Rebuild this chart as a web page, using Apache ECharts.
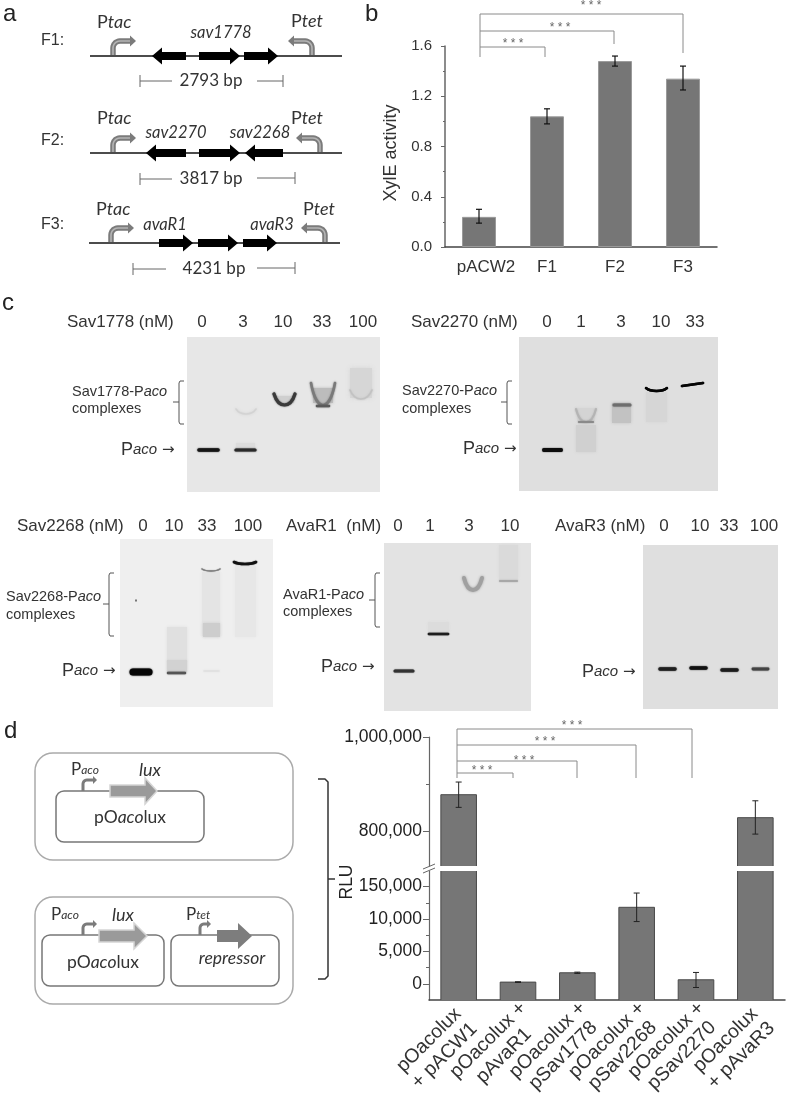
<!DOCTYPE html>
<html><head><meta charset="utf-8">
<style>html,body{margin:0;padding:0;background:#fff}#c{width:787px;height:1096px;filter:blur(0.45px)}</style>
<script src="https://cdn.jsdelivr.net/npm/echarts@6/dist/echarts.min.js"></script>
</head><body><div id="c"></div>
<script>
// ---------- DATA ----------
const bCategories = ['pACW2','F1','F2','F3'];
const bValues = [0.24,1.04,1.48,1.34];
const bErrLow = [0.19,0.98,1.44,1.25];
const bErrHigh = [0.30,1.10,1.52,1.44];
const dCategories = ['pOacolux\n+ pACW1','pOacolux +\npAvaR1','pOacolux +\npSav1778','pOacolux +\npSav2268','pOacolux +\npSav2270','pOacolux\n+ pAvaR3'];
const dValues = [877000,260,1700,11800,620,828000];
const dErrLow = [850000,200,1600,9600,-570,793000];
const dErrHigh = [904000,320,1800,14000,1750,864000];
const dUpperTickValues = [800000,1000000];
const dUpperMinorTicks = [900000];
const dLowerTickValues = [0,5000,10000,15000];
const dLowerTickLabels = ['0','5,000','10,000','150,000'];
const dLowerMinorTicks = [2500,7500,12500];
const dAxisFloor = -2500;
const dUpperFloor = 725000;

const AR='"Liberation Sans",Arial,sans-serif', LA='Lato,sans-serif';
const TXT='#333';
const g=[];
function T(x,y,text,o){o=o||{};const e={type:'text',x:x,y:y,rotation:o.rot||0,silent:true,z:o.z||10,style:{text:text,fill:o.fill||TXT,
  fontFamily:o.ff||AR,fontSize:o.fs||17,fontStyle:o.it?'italic':'normal',fontWeight:o.fw||'normal',align:o.align||'left',verticalAlign:'middle',rich:o.rich}};g.push(e);return e;}
function L(pts,stroke,lw,o){o=o||{};g.push({type:'polyline',silent:true,z:o.z||5,shape:{points:pts},style:{stroke:stroke,lineWidth:lw,fill:null,lineJoin:'round',lineCap:o.cap||'butt'}});}
function P(pts,fill,o){o=o||{};g.push({type:'polygon',silent:true,z:o.z||6,shape:{points:pts},style:{fill:fill,stroke:o.stroke||null,lineWidth:o.lw||0}});}
function R(x,y,w,h,o){g.push({type:'rect',silent:true,z:o.z||3,shape:{x:x,y:y,width:w,height:h,r:o.r||0},
  style:{fill:o.fill||null,stroke:o.stroke||null,lineWidth:o.lw||0,opacity:o.op==null?1:o.op,shadowBlur:o.blur||0,shadowColor:o.sc||o.fill||'transparent'}});}
function block(x1,x2,y,dir,bh,hh,hl){bh=bh||8;hh=hh||17;hl=hl||10;
  if(dir>0)P([[x1,y-bh/2],[x2-hl,y-bh/2],[x2-hl,y-hh/2],[x2,y],[x2-hl,y+hh/2],[x2-hl,y+bh/2],[x1,y+bh/2]],'#000');
  else P([[x2,y-bh/2],[x1+hl,y-bh/2],[x1+hl,y-hh/2],[x1,y],[x1+hl,y+hh/2],[x1+hl,y+bh/2],[x2,y+bh/2]],'#000');}
function elbow(x,yb,yt,tip,o){o=o||{};const d=tip>x?1:-1,r=o.r||7,pts=[[x,yb]];
  for(let i=0;i<=6;i++){const a=i/6*Math.PI/2;pts.push([x+d*r*(1-Math.cos(a)),yt+r*(1-Math.sin(a))]);}
  const hl=o.hl||6,hh=o.hh||11;pts.push([tip-d*hl,yt]);
  L(pts,o.c||'#7b7b7b',o.lw||5.5,{z:7});
  if(o.inner!==false)L(pts,'#b5b5b5',1.6,{z:8});
  P([[tip-d*hl,yt-hh/2],[tip,yt],[tip-d*hl,yt+hh/2]],o.c||'#7b7b7b',{z:9});}
function ptxt(x,y,sub,o){o=o||{};const fs=o.fs||18,sf=o.sf||fs;
  T(x,y,'{n|P}{i|'+sub+'}',{rich:{n:{fontFamily:o.ff||LA,fontSize:fs,fill:TXT},i:{fontFamily:o.ff||LA,fontSize:sf,fontStyle:'italic',fill:TXT}}});}
function dim(x1,x2,y,x3,x4,t,tx,yr){const c='#666';yr=yr==null?y:yr;
  L([[x1,y],[x2,y]],c,1);L([[x3,yr],[x4,yr]],c,1);L([[x1,y-6],[x1,y+6]],c,1);L([[x4,yr-6],[x4,yr+6]],c,1);
  T(tx,y,t,{ff:LA,fs:17,align:'center'});}

// panel letters
T(3,14,'a',{fs:24,fill:'#222'});T(365,14,'b',{fs:24,fill:'#222'});T(2,303,'c',{fs:24,fill:'#222'});T(4,731,'d',{fs:24,fill:'#222'});

// ---------- panel a ----------
const mainC='#111';
[[90,342,56],[90,342,153],[89,340,243]].forEach(r=>L([[r[0],r[2]],[r[1],r[2]]],mainC,1.4,{z:4}));
T(41,41,'F1:',{fs:16});T(41,141,'F2:',{fs:16});T(41,225,'F3:',{fs:16});
ptxt(97,22,'tac');ptxt(291,21,'tet');ptxt(97,118,'tac');ptxt(291,118,'tet');ptxt(96,209,'tac');ptxt(303,209,'tet');
T(221,33,'sav1778',{ff:LA,it:1,fs:16.5,align:'center'});
T(176,133,'sav2270',{ff:LA,it:1,fs:16.5,align:'center'});T(260,133,'sav2268',{ff:LA,it:1,fs:16.5,align:'center'});
T(165,225,'avaR1',{ff:LA,it:1,fs:16.5,align:'center'});T(272,225,'avaR3',{ff:LA,it:1,fs:16.5,align:'center'});
block(152,186,56,-1);block(199,240,56,1);block(244,278,56,1);
block(146,186,153,-1);block(199,240,153,1);block(245,283,153,-1);
block(159,193,243,1);block(198,238,243,1);block(243,277,243,1);
elbow(113,55,41,136);elbow(312,55,41,288);
elbow(113,152,138,136);elbow(320,152,138,296);
elbow(111,242,228,134);elbow(325,242,228,301);
dim(140,172,81,257,283,'2793 bp',211);
dim(140,172,179,257,295,'3817 bp',211,178);
dim(133,166,269,257,295,'4231 bp',214,268);

T(391,153,'XylE activity',{fs:18,rot:Math.PI/2,align:'center'});

// ---------- significance brackets ----------
function sig(xs,yb,rows,stars){const c='#8a8a8a';
  L([[xs,rows[0][0]],[xs,yb]],c,1);
  rows.forEach(r=>L([[xs,r[0]],[r[1],r[0]],[r[1],r[2]]],c,1));
  stars.forEach(s=>T(s[0],s[1]+3,'* * *',{fs:12,fill:'#666',align:'center'}));}
sig(480,57,[[14,683,53],[31,614,44],[47,545,57]],[[591,3],[560,25],[513,41]]);
sig(457,778,[[729,692,778],[745,636,778],[761,577,778],[773,513,778]],[[572,723],[545,739],[524,758],[482,768]]);

// ---------- panel c : gels ----------
function band(x1,x2,y,lw,c,blur,yR){yR=yR==null?y:yR;g.push({type:'line',silent:true,z:4,shape:{x1:x1,y1:y,x2:x2,y2:yR},
  style:{stroke:c,lineWidth:lw,lineCap:'round',shadowBlur:blur==null?2:blur,shadowColor:c}});}
function smile(x1,x2,yE,yB,lw,c,blur){const w=x2-x1,cp=yE+(yB-yE)/0.75;g.push({type:'bezierCurve',silent:true,z:4,
  shape:{x1:x1,y1:yE,x2:x2,y2:yE,cpx1:x1+w*0.22,cpy1:cp,cpx2:x2-w*0.22,cpy2:cp},
  style:{stroke:c,lineWidth:lw,fill:null,lineCap:'round',shadowBlur:blur==null?2:blur,shadowColor:c}});}
function smear(x1,y1,x2,y2,c,blur){R(x1,y1,x2-x1,y2-y1,{fill:c,blur:blur==null?5:blur,z:3});}
function gel(x1,y1,x2,y2,c){R(x1,y1,x2-x1,y2-y1,{fill:c,z:2});}
function hdr(x,y,t,ls,xs){T(x,y,t,{fs:17});ls.forEach((l,i)=>T(xs[i],y,l,{fs:17,align:'center'}));}
function brace(x,y1,y2,ym){const c='#555';L([[x+5,y1],[x+1,y1],[x,y1+2],[x,y2-2],[x+1,y2],[x+5,y2]],c,1);L([[x-6,ym],[x,ym]],c,1);}
function compl(x,y1,y2,name){T(x,y1,'{n|'+name+'-P}{i|aco}',{rich:{n:{fontFamily:AR,fontSize:14.5,fill:TXT},i:{fontFamily:AR,fontSize:14.5,fontStyle:'italic',fill:TXT}}});T(x,y2,'complexes',{fs:14.5});}
function paco(x,y){T(x,y,'{n|P}{i|aco} {a|\u2192}',{rich:{n:{fontFamily:AR,fontSize:18,fill:TXT},i:{fontFamily:AR,fontSize:15,fontStyle:'italic',fill:TXT},a:{fontFamily:'"DejaVu Sans"',fontSize:15,fill:TXT}}});}

// gel 1
hdr(67,322,'Sav1778 (nM)',['0','3','10','33','100'],[202,243,283,322,363]);
compl(72,392,409,'Sav1778');brace(179,381,424,402);paco(121,450);
gel(187,337,380,492,'#e7e7e7');
band(199,218,450,3.5,'#151515',1.5);
band(236,255,450,3.2,'#2a2a2a',1.5);smear(236,443,255,450,'#dcdcdc',3);
smile(236,256,409,414,1.6,'#d3d3d3',3);
smear(276,396,294,403,'#cfcfcf',3);smile(274,295,394,405,3.2,'#3a3a3a',1.5);
smear(313,388,333,403,'#bcbcbc',3);smile(311,335,383,405,2.6,'#7a7a7a',2);band(317,329,406,2.5,'#5a5a5a',1.5);
smear(350,368,372,398,'#d6d6d6',5);smile(350,372,390,399,1.6,'#c2c2c2',2);

// gel 2
hdr(411,322,'Sav2270 (nM)',['0','1','3','10','33'],[547,581,621,661,695]);
compl(402,391,409,'Sav2270');brace(507,381,424,402);paco(463,449);
gel(519,337,718,491,'#dfdfdf');
band(544,561,450,3.8,'#0d0d0d',1.2);
smear(576,425,596,452,'#d0d0d0',3);smear(577,408,595,421,'#d4d4d4',3);smile(576,596,409,422,2,'#b4b4b4',2);band(579,593,422,2.2,'#8a8a8a',1.5);
smear(612,403,631,423,'#c2c2c2',3);band(614,630,405,3,'#6e6e6e',1.5);
smear(646,392,667,422,'#d6d6d6',3);smile(646,667,388,391,2.4,'#050505',0.5);
band(682,703,386,2.6,'#050505',0.5,383);

// gel 3
hdr(17,526,'Sav2268 (nM)',['0','10','33','100'],[143,174,207,248]);
compl(6,597,615,'Sav2268');brace(109,573,636,604);paco(62,671);
gel(120,539,273,707,'#efefef');
band(133,149,672,7,'#060606',1.5);
smear(167,627,187,672,'#e0e0e0',3);smear(167,660,187,672,'#d2d2d2',2);band(168,185,673,2.4,'#555',1.2);
smear(202,572,220,636,'#e4e4e4',3);smear(203,623,220,637,'#cdcdcd',3);smile(202,220,569,571,1.5,'#808080',1);band(204,219,671,1.6,'#e0e0e0',2);
smear(235,566,256,637,'#e7e7e7',3);smile(234,256,562,564,2.6,'#111',1);
R(135,599.5,2,2,{fill:'#777',z:4});

// gel 4
hdr(286,526,'AvaR1  (nM)',['0','1','3','10'],[398,430,469,510]);
compl(283,595,612,'AvaR1');brace(375,573,627,600);paco(321,667);
gel(384,543,531,711,'#e3e3e3');
band(395,413,671,3,'#333',1.2);
smear(428,622,449,632,'#dcdcdc',3);band(429,448,634,2.6,'#1e1e1e',1);
smile(464,482,578,590,4,'#a0a0a0',2.5);
smear(499,545,518,580,'#dadada',3);band(500,517,581,2,'#a8a8a8',1.5);

// gel 5
hdr(555,526,'AvaR3 (nM)',['0','10','33','100'],[664,700,729,764]);
paco(582,672);
gel(643,545,778,709,'#dfdfdf');
band(660,675,669,3.4,'#1f1f1f',1.5);band(691,706,668,3.4,'#111',1.5);band(722,737,670,3.4,'#1c1c1c',1.5);band(753,768,669,2.8,'#444',1.5);

// ---------- panel d : diagrams ----------
function bigArrow(x1,x2,y,hs,fill,edge){P([[x1,y-6],[hs,y-6],[hs,y-13],[x2,y],[hs,y+13],[hs,y+6],[x1,y+6]],fill,{stroke:edge,lw:edge?1.5:0,z:6});}
R(35,753,258,107,{r:18,stroke:'#aaa',lw:1.5,z:3});
R(56,791,148,51,{r:8,stroke:'#777',lw:1.5,z:4});
R(35,897,258,107,{r:18,stroke:'#aaa',lw:1.5,z:3});
R(42,935,122,51,{r:8,stroke:'#777',lw:1.5,z:4});
R(171,935,108,51,{r:8,stroke:'#777',lw:1.5,z:4});
function sp(x,y,sub){T(x,y,'{n|P}{i|'+sub+'}',{rich:{n:{fontFamily:LA,fontSize:17,fill:TXT},i:{fontFamily:LA,fontSize:12,fontStyle:'italic',fill:TXT}}});}
sp(71,770,'aco');sp(51,915,'aco');sp(186,915,'tet');
T(150,770,'lux',{ff:LA,it:1,fs:18,align:'center'});T(123,915,'lux',{ff:LA,it:1,fs:18,align:'center'});
function pol(cx,cy){T(cx,cy,'{n|pO}{i|aco}{n|lux}',{align:'center',rich:{n:{fontFamily:LA,fontSize:17.5,fill:TXT},i:{fontFamily:LA,fontSize:17.5,fontStyle:'italic',fill:TXT}}});}
pol(130,817);pol(103,962);
T(232,958,'repressor',{ff:LA,it:1,fs:17.5,align:'center'});
const small={r:4,hl:4,hh:8,lw:3,inner:false};
elbow(83,791,780,97,small);elbow(83,935,924,97,small);elbow(200,935,924,211,small);
bigArrow(110,157,791,145,'#9a9a9a','#d5d5d5');bigArrow(99,147,936,134,'#9a9a9a','#d5d5d5');bigArrow(217,252,936,238,'#7d7d7d',null);
L([[318,779],[325,779],[328,782],[328,976],[325,979],[318,979]],'#333',1.5);L([[328,879],[335,879]],'#333',1.5);

T(347,882,'RLU',{fs:17.5,rot:Math.PI/2,align:'center',fill:'#222'});
// axis break marks
L([[423,869],[435,864]],'#666',1,{z:20});L([[423,873],[435,868]],'#666',1,{z:20});

// ---------- ECharts option ----------
const errRender=(stroke,cap,lw)=>function(p,api){
  const x=api.value(0),lo=api.coord([x,api.value(1)]),hi=api.coord([x,api.value(2)]);
  const s={stroke:stroke,lineWidth:lw,fill:null};
  return {type:'group',children:[
   {type:'line',shape:{x1:lo[0],y1:lo[1],x2:hi[0],y2:hi[1]},style:s},
   {type:'line',shape:{x1:lo[0]-cap,y1:lo[1],x2:lo[0]+cap,y2:lo[1]},style:s},
   {type:'line',shape:{x1:hi[0]-cap,y1:hi[1],x2:hi[0]+cap,y2:hi[1]},style:s}]};
};
// broken-axis bars: stand on the panel floor, cut open at the break (no edge line across the cut)
const floorBar=floor=>function(p,api){
  const x=api.value(0),top=api.coord([x,api.value(1)]),bot=api.coord([x,floor]),w=api.size([1,0])[0]*0.6;
  const cs=p.coordSys,cut=top[1]<cs.y,y1=Math.max(top[1],cs.y),xl=top[0]-w/2,xr=top[0]+w/2;
  const edge=cut?[[xl,bot[1]],[xl,y1],[xl,y1]]:[[xl,bot[1]],[xl,y1],[xr,y1]];
  const pts=cut?null:[[xl,bot[1]],[xl,y1],[xr,y1],[xr,bot[1]]];
  const ch=[{type:'rect',shape:{x:xl,y:y1,width:w,height:bot[1]-y1},style:{fill:'#767676'}}];
  if(pts)ch.push({type:'polyline',shape:{points:pts},style:{stroke:'#4a4a4a',lineWidth:1,fill:null}});
  else{ch.push({type:'line',shape:{x1:xl,y1:y1,x2:xl,y2:bot[1]},style:{stroke:'#4a4a4a',lineWidth:1}});
       ch.push({type:'line',shape:{x1:xr,y1:y1,x2:xr,y2:bot[1]},style:{stroke:'#4a4a4a',lineWidth:1}});}
  return {type:'group',children:ch};
};
const errData=(lo,hi,keep)=>lo.map((v,i)=>[i,v,hi[i]]).filter(r=>keep(r[0]));
const isUp=i=>dValues[i]>100000;
const axC='#666';
const option={
 animation:false,backgroundColor:'#fff',
 grid:[{left:445,top:46,width:272,height:201,outerBoundsMode:'none'},{left:429,top:737,width:356,height:129,outerBoundsMode:'none'},{left:429,top:871,width:356,height:129,outerBoundsMode:'none'}],
 xAxis:[
  {gridIndex:0,type:'category',data:bCategories,axisLine:{lineStyle:{color:'#444',width:1.5}},axisTick:{length:3,lineStyle:{color:'#444'}},
   axisLabel:{interval:0,color:TXT,fontFamily:AR,fontSize:17,margin:12,formatter:(v,i)=>i===0?'{s|'+v+'}':v,
    rich:{s:{fontFamily:AR,fontSize:17,color:TXT,padding:[0,0,0,14]}}}},
  {gridIndex:1,type:'category',data:dCategories,show:false},
  {gridIndex:2,type:'category',position:'bottom',data:dCategories,axisLine:{onZero:false,lineStyle:{color:'#444',width:1.5}},axisTick:{alignWithLabel:true,length:5,lineStyle:{color:'#333'}},
   axisLabel:{interval:0,rotate:45,align:'center',verticalAlign:'middle',margin:26,padding:[0,62,0,0],color:TXT,fontFamily:AR,fontSize:19.5,lineHeight:22}},
  {gridIndex:2,type:'category',position:'bottom',data:dCategories,axisLine:{show:false,onZero:false},axisTick:{length:2.5,lineStyle:{color:'#555'}},axisLabel:{show:false}}
 ],
 yAxis:[
  {gridIndex:0,type:'value',min:0,max:1.6,interval:0.4,splitLine:{show:false},axisLine:{show:true,lineStyle:{color:axC,width:1.5}},axisTick:{show:true,length:4,lineStyle:{color:axC}},
   minorTick:{show:true,splitNumber:2,length:2,lineStyle:{color:axC}},
   axisLabel:{color:TXT,fontFamily:AR,fontSize:15,margin:13,formatter:v=>v.toFixed(1)}},
  {gridIndex:1,position:'left',type:'value',min:dUpperFloor,max:1000000,splitLine:{show:false},axisLine:{show:true,onZero:false,lineStyle:{color:axC,width:1.2}},
   axisTick:{show:true,length:6,customValues:dUpperTickValues,lineStyle:{color:axC}},
   axisLabel:{customValues:dUpperTickValues,color:'#222',fontFamily:AR,fontSize:17.5,margin:7,formatter:v=>v.toLocaleString('en-US')}},
  {gridIndex:1,position:'left',type:'value',min:dUpperFloor,max:1000000,splitLine:{show:false},axisLine:{show:false},axisTick:{show:true,length:3,customValues:dUpperMinorTicks,lineStyle:{color:axC}},axisLabel:{show:false}},
  {gridIndex:2,position:'left',type:'value',min:dAxisFloor,max:17400,splitLine:{show:false},axisLine:{show:true,onZero:false,lineStyle:{color:axC,width:1.2}},
   axisTick:{show:true,length:6,customValues:dLowerTickValues,lineStyle:{color:axC}},
   axisLabel:{customValues:dLowerTickValues,color:'#222',fontFamily:AR,fontSize:17.5,margin:7,formatter:v=>dLowerTickLabels[dLowerTickValues.indexOf(v)]}},
  {gridIndex:2,position:'left',type:'value',min:dAxisFloor,max:17400,splitLine:{show:false},axisLine:{show:false},axisTick:{show:true,length:3,customValues:dLowerMinorTicks,lineStyle:{color:axC}},axisLabel:{show:false}}
 ],
 series:[
  {type:'bar',xAxisIndex:0,yAxisIndex:0,data:bValues,barWidth:'50%',itemStyle:{color:'#767676',borderColor:'#9a9a9a',borderWidth:1}},
  {type:'custom',xAxisIndex:0,yAxisIndex:0,data:errData(bErrLow,bErrHigh,()=>true),renderItem:errRender('#111',3,1.2),encode:{x:0,y:[1,2]},z:5},
  {type:'custom',xAxisIndex:1,yAxisIndex:1,data:dValues.map((v,i)=>[i,v]).filter(r=>isUp(r[0])),renderItem:floorBar(dUpperFloor),encode:{x:0,y:1}},
  {type:'custom',xAxisIndex:1,yAxisIndex:1,data:errData(dErrLow,dErrHigh,isUp),renderItem:errRender('#222',3,1),encode:{x:0,y:[1,2]},z:5},
  {type:'custom',xAxisIndex:2,yAxisIndex:3,data:dValues.map((v,i)=>[i,v]),renderItem:floorBar(dAxisFloor),encode:{x:0,y:1}},
  {type:'custom',xAxisIndex:2,yAxisIndex:3,data:errData(dErrLow,dErrHigh,i=>!isUp(i)),renderItem:errRender('#222',3,1),encode:{x:0,y:[1,2]},z:5}
 ],
 graphic:{elements:g}
};
const chart=echarts.init(document.getElementById('c'),null,{renderer:'canvas',width:787,height:1096});
chart.setOption(option);
</script></body></html>
